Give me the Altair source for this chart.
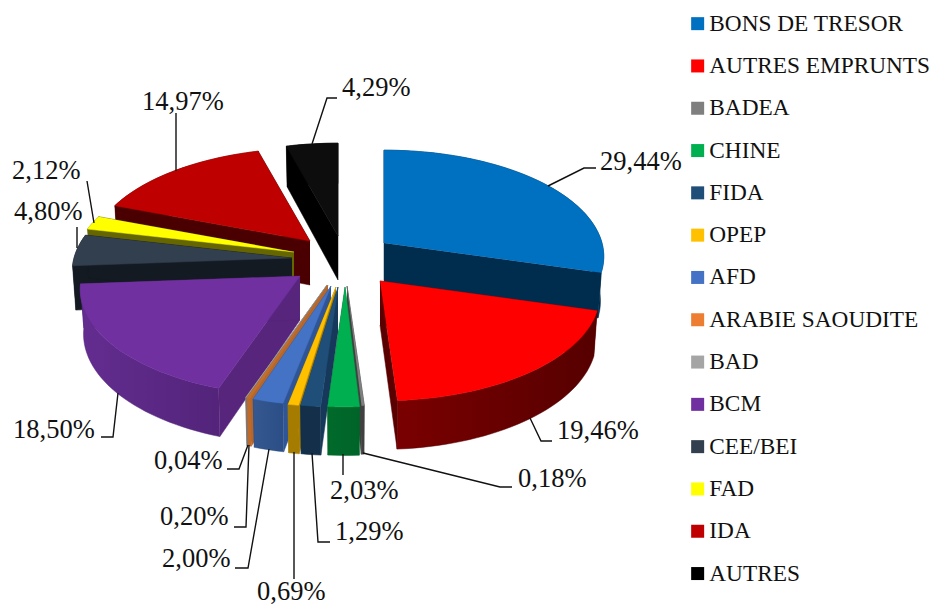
import math
import altair as alt
import pandas as pd

# ---- data
names = ["BONS DE TRESOR", "AUTRES EMPRUNTS", "BADEA", "CHINE", "FIDA", "OPEP", "AFD",
         "ARABIE SAOUDITE", "BAD", "BCM", "CEE/BEI", "FAD", "IDA", "AUTRES"]
values = [29.44, 19.46, 0.18, 2.03, 1.29, 0.69, 2.00, 0.20, 0.04, 18.50, 4.80, 2.12, 14.97, 4.29]
legend_colors = ["#0070C0", "#FF0000", "#7F7F7F", "#00B050", "#1F4E79", "#FFC000", "#4472C4",
                 "#ED7D31", "#A5A5A5", "#7030A0", "#323F4F", "#FFFF00", "#C00000", "#000000"]
top_colors = ["#0070C0", "#FF0000", "#7F7F7F", "#00B050", "#1F4E79", "#FFC000", "#4472C4",
              "#C46F2E", "#A5A5A5", "#7030A0", "#323F4F", "#FFFF00", "#BE0000", "#0D0D0D"]
wall_colors = ["#002D4D", "#5A0000", "#404040", "#006428", "#16385A", "#A57C00", "#2F5597",
               "#B5672B", "#777777", "#57257C", "#141A22", "#666600", "#4A0000", "#000000"]
rim_left = ["#002D4D", "#7A0000", "#404040", "#006A2B", "#132F4A", "#A57C00", "#34588F",
            "#BF6A2A", "#777777", "#632D90", "#141A22", "#666600", "#4A0000", "#000000"]
rim_right = ["#002D4D", "#560000", "#404040", "#006428", "#132F4A", "#A57C00", "#2B4E86",
             "#BF6A2A", "#777777", "#53247A", "#141A22", "#666600", "#4A0000", "#000000"]

# ---- layout of the exploded 3-D pie (page pixels)
apex_x = [384, 380, 347, 345, 338, 336, 331, 328, 327, 300, 292, 294, 310, 338]
apex_y = [243, 281, 286, 287, 287, 287, 286, 285, 285, 276, 258, 252, 241, 236]
R, TILT, PERSP, DEPTH, SHRINK = 218.0, 0.48, 0.127, 44.0, 0.985
paint_order = [13, 12, 11, 10, 0, 9, 8, 7, 6, 5, 4, 1, 2, 3]

# label text anchor, and leader polyline per slice
label_x = [600, 557, 518, 330, 335, 257, 162, 160, 154, 13, 14, 12, 142, 342]
label_y = [162, 431, 479, 491, 532, 592, 559, 517, 461, 430, 212, 171, 102, 88]
leader_x = [[548, 584, 596], [530, 541, 552], [363, 500, 512], [343, 343], [312, 318, 330], [294, 294],
            [269, 248, 235], [249, 246, 234], [248, 239, 227], [118, 113, 101], [77, 77], [94, 87],
            [176, 176], [312, 327, 337]]
leader_y = [[186, 168, 168], [418, 441, 441], [453, 487, 487], [454, 475], [453, 542, 542], [452, 579],
            [449, 568, 568], [445, 527, 527], [445, 469, 469], [393, 437, 437], [248, 227], [223, 181],
            [171, 113], [144, 98, 98]]

X = alt.X("x:Q", scale=alt.Scale(domain=[8, 931]), axis=None)
Y = alt.Y("y:Q", scale=alt.Scale(domain=[607, 8]), axis=None)


def project(i, theta, radial=1.0, bottom=False):
    z = math.cos(theta) * radial
    s = 1.0 / (1.0 + PERSP * z)
    k = SHRINK if bottom else 1.0
    px = apex_x[i] + R * math.sin(theta) * radial * s * k
    py = apex_y[i] - R * TILT * z * s * k + (DEPTH * s if bottom else 0.0)
    return px, py


def poly(points, fill, stroke):
    df = pd.DataFrame({"x": [p[0] for p in points], "y": [p[1] for p in points], "i": range(len(points))})
    return alt.Chart(df).mark_line(fill=fill, stroke=stroke, strokeWidth=0.5, interpolate="linear").encode(
        x=X, y=Y, order=alt.Order("i:Q"))


layers = []
total = sum(values)
cum = [0.0]
for v in values:
    cum.append(cum[-1] + v)
for i in paint_order:
    t1 = cum[i] / total * 2 * math.pi
    t2 = cum[i + 1] / total * 2 * math.pi
    steps = max(2, int((t2 - t1) / math.radians(2)) + 1)
    ts = [t1 + (t2 - t1) * j / steps for j in range(steps + 1)]
    apex_top = project(i, 0, 0)
    apex_bot = project(i, 0, 0, True)
    for t in (t1, t2):
        layers.append(poly([apex_top, project(i, t), project(i, t, 1, True), apex_bot], wall_colors[i], wall_colors[i]))
    rim = [project(i, t) for t in ts] + [project(i, t, 1, True) for t in reversed(ts)]
    grad = alt.LinearGradient(gradient="linear", x1=0, x2=1, y1=0, y2=0, stops=[
        alt.GradientStop(color=rim_left[i], offset=0), alt.GradientStop(color=rim_right[i], offset=1)])
    layers.append(poly(rim, grad, rim_right[i]))
    layers.append(poly([apex_top] + [project(i, t) for t in ts], top_colors[i], top_colors[i]))

# leaders
for i in range(len(values)):
    df = pd.DataFrame({"x": leader_x[i], "y": leader_y[i], "i": range(len(leader_x[i]))})
    layers.append(alt.Chart(df).mark_line(color="#111111", strokeWidth=1.4).encode(x=X, y=Y, order=alt.Order("i:Q")))

# percentage labels
labels = pd.DataFrame({"x": label_x, "y": label_y,
                       "t": [f"{v:.2f}".replace(".", ",") + "%" for v in values]})
layers.append(alt.Chart(labels).mark_text(align="left", baseline="middle", font="Liberation Serif",
                                          fontSize=26.5, color="#111111").encode(x=X, y=Y, text="t:N"))

# legend carrier
legend_df = pd.DataFrame({"name": names, "x": apex_x, "y": apex_y})
layers.append(alt.Chart(legend_df).mark_point(shape="square", filled=True, opacity=0).encode(
    x=X, y=Y,
    color=alt.Color("name:N", scale=alt.Scale(domain=names, range=legend_colors), legend=alt.Legend(
        orient="none", legendX=666, legendY=4, title=None, symbolType="square", symbolSize=169,
        symbolOffset=12, symbolOpacity=1, symbolStrokeWidth=0, labelFont="Liberation Serif", labelFontSize=23.3,
        labelColor="#111111", labelLimit=300, rowPadding=18.3, labelOffset=0, padding=0)),
))

chart = alt.layer(*layers).properties(
    width=923, height=599, padding=0, autosize=alt.AutoSizeParams(type="none"), background="#FFFFFF"
).configure_view(strokeWidth=0)

chart.save("out.html", embed_options={"renderer": "svg", "actions": False})
